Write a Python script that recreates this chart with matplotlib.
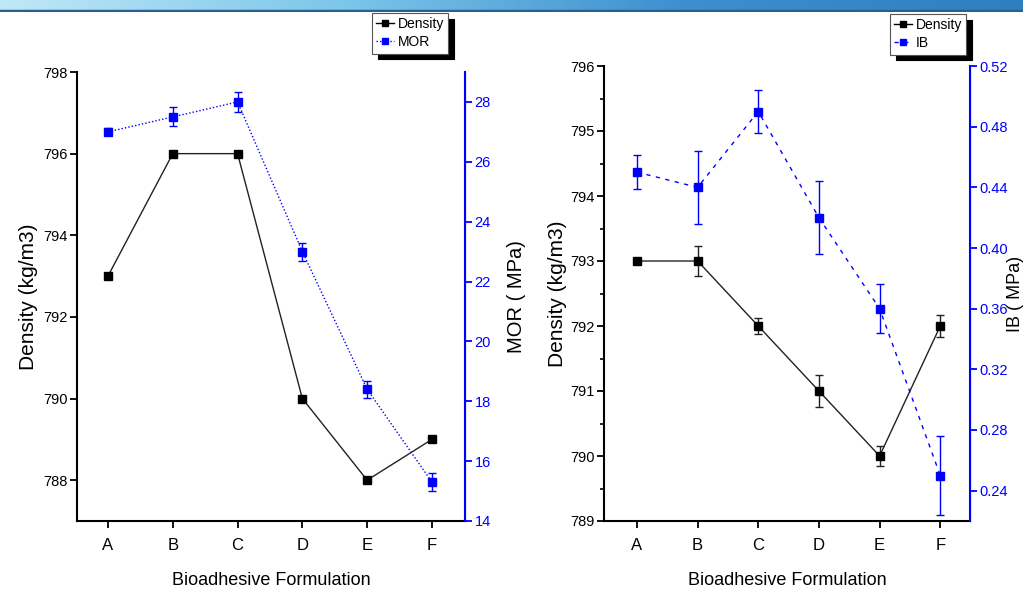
import matplotlib
matplotlib.use("Agg")
import matplotlib.pyplot as plt
import numpy as np
from matplotlib.lines import Line2D
from matplotlib.colors import LinearSegmentedColormap

# ---------------- data ----------------
categories = ['A', 'B', 'C', 'D', 'E', 'F']

density_left = [793, 796, 796, 790, 788, 789]
mor = [27.0, 27.5, 28.0, 23.0, 18.4, 15.3]
mor_err = [0.12, 0.32, 0.32, 0.3, 0.28, 0.31]

density_right = [793, 793, 792, 791, 790, 792]
density_right_err = [0.03, 0.23, 0.13, 0.25, 0.16, 0.17]
ib = [0.45, 0.44, 0.49, 0.42, 0.36, 0.25]
ib_err = [0.011, 0.024, 0.014, 0.024, 0.016, 0.026]

left_yticks = [788, 790, 792, 794, 796, 798]
mor_ticks = [14, 16, 18, 20, 22, 24, 26, 28]
right_yticks = [789, 790, 791, 792, 793, 794, 795, 796]
ib_ticks = [0.24, 0.28, 0.32, 0.36, 0.40, 0.44, 0.48, 0.52]

# ---------------- style ----------------
NARROW = ['Liberation Sans Narrow', 'Liberation Sans', 'DejaVu Sans']
REG = ['Liberation Sans', 'DejaVu Sans']
BLUE = '#0000ff'
W, H = 1023, 592
TICK_FS = 10.5
XTICK_FS = 12

fig = plt.figure(figsize=(W / 100, H / 100), dpi=100)

# top decorative gradient strip
strip = fig.add_axes([0, 1 - 12 / H, 1, 12 / H])
grad = np.linspace(0, 1, 256).reshape(1, -1)
cm = LinearSegmentedColormap.from_list('s', ['#bfe8f7', '#7cc6ea', '#3d8fcf', '#2f7fc0'])
strip.imshow(grad, aspect='auto', cmap=cm, extent=[0, 1, 0, 1])
strip.axhline(0.08, color='#2c5f8f', lw=2.5)
strip.set_axis_off()


def fig_rect(x0, x1, ytop, ybot):
    return [x0 / W, 1 - ybot / H, (x1 - x0) / W, (ybot - ytop) / H]


def style_axes(ax, twin, ylab, twin_lab, ylx, tlx, yl_fs=15, tl_fs=15):
    ax.spines['top'].set_visible(False)
    twin.spines['top'].set_visible(False)
    for s in ['left', 'bottom']:
        ax.spines[s].set_linewidth(1.5)
        ax.spines[s].set_color('black')
    twin.spines['right'].set_color(BLUE)
    twin.spines['right'].set_linewidth(1.5)
    twin.spines['left'].set_visible(False)
    twin.spines['bottom'].set_visible(False)
    ax.tick_params(axis='both', direction='out', length=5, width=1.3, colors='black')
    ax.tick_params(axis='x', pad=7)
    ax.tick_params(axis='y', pad=2)
    ax.tick_params(axis='y', which='minor', direction='out', length=3, width=1.2)
    twin.tick_params(axis='y', direction='out', length=5, width=1.3, colors=BLUE, pad=2)
    for lab in ax.get_xticklabels():
        lab.set_fontfamily(NARROW)
        lab.set_fontsize(XTICK_FS)
    for lab in ax.get_yticklabels():
        lab.set_fontfamily(NARROW)
        lab.set_fontsize(TICK_FS)
    for lab in twin.get_yticklabels():
        lab.set_fontfamily(NARROW)
        lab.set_fontsize(TICK_FS)
        lab.set_color(BLUE)
    ax.set_xlabel('Bioadhesive Formulation', family=NARROW, fontsize=13, labelpad=14)
    ax.set_ylabel(ylab, family=REG, fontsize=yl_fs)
    ax.yaxis.set_label_coords(ylx, 0.5)
    twin.set_ylabel(twin_lab, family=REG, fontsize=tl_fs, color='black')
    twin.yaxis.set_label_coords(tlx, 0.5)


x = np.arange(len(categories))

# ---------------- left panel ----------------
ax1 = fig.add_axes(fig_rect(77, 465, 72, 521))
tw1 = ax1.twinx()
ax1.plot(x, density_left, color='#222222', lw=1.0, marker='s', ms=6,
         mfc='black', mec='black', zorder=3)
tw1.errorbar(x, mor, yerr=mor_err, color=BLUE, lw=1.0, ls=(0, (1, 1.5)),
             marker='s', ms=6, mfc=BLUE, mec=BLUE, capsize=3, elinewidth=1.0,
             capthick=1.0, ecolor=BLUE)
ax1.set_xlim(-0.478, 5.51)
ax1.set_ylim(787, 798)
tw1.set_ylim(14, 29)
ax1.set_xticks(x)
ax1.set_xticklabels(categories)
ax1.set_yticks(left_yticks)
tw1.set_yticks(mor_ticks)
style_axes(ax1, tw1, 'Density (kg/m3)', 'MOR ( MPa)',
           (38 - 77) / 388, (507 - 77) / 388, yl_fs=15, tl_fs=14.5)

h1 = [Line2D([], [], color='black', lw=1, marker='s', ms=5),
      Line2D([], [], color=BLUE, lw=1, ls=(0, (1, 1.5)), marker='s', ms=5)]
leg1 = fig.legend(h1, ['Density', 'MOR'], loc='upper left',
                  bbox_to_anchor=(372 / W, 1 - 13 / H), frameon=True,
                  fancybox=False, shadow={'color': 'black', 'alpha': 1, 'ox': 4, 'oy': -4},
                  edgecolor='#555555', prop={'family': NARROW, 'size': 10},
                  handlelength=1.3, handletextpad=0.25, borderpad=0.3,
                  labelspacing=0.3, borderaxespad=0)
leg1.get_frame().set_linewidth(0.8)

# ---------------- right panel ----------------
ax2 = fig.add_axes(fig_rect(604, 970, 66, 521))
tw2 = ax2.twinx()
ax2.errorbar(x, density_right, yerr=density_right_err, color='#222222', lw=1.0,
             marker='s', ms=6, mfc='black', mec='black', capsize=3,
             elinewidth=1.0, capthick=1.0, ecolor='#222222', zorder=3)
tw2.errorbar(x, ib, yerr=ib_err, color=BLUE, lw=1.0, ls=(0, (3, 4)),
             marker='s', ms=6, mfc=BLUE, mec=BLUE, capsize=3, elinewidth=1.0,
             capthick=1.0, ecolor=BLUE)
ax2.set_xlim(-0.543, 5.49)
ax2.set_ylim(789, 796)
tw2.set_ylim(0.22, 0.52)
ax2.set_xticks(x)
ax2.set_xticklabels(categories)
ax2.set_yticks(right_yticks)
ax2.yaxis.set_minor_locator(matplotlib.ticker.MultipleLocator(0.5))
tw2.set_yticks(ib_ticks)
tw2.yaxis.set_major_formatter(matplotlib.ticker.FormatStrFormatter('%.2f'))
style_axes(ax2, tw2, 'Density (kg/m3)', 'IB ( MPa)',
           (567 - 604) / 366, (1007 - 604) / 366, yl_fs=15, tl_fs=13)

h2 = [Line2D([], [], color='black', lw=1, marker='s', ms=5),
      Line2D([], [], color=BLUE, lw=1, ls=(0, (3, 4)), marker='s', ms=5)]
leg2 = fig.legend(h2, ['Density', 'IB'], loc='upper left',
                  bbox_to_anchor=(890 / W, 1 - 14 / H), frameon=True,
                  fancybox=False, shadow={'color': 'black', 'alpha': 1, 'ox': 4, 'oy': -4},
                  edgecolor='#555555', prop={'family': NARROW, 'size': 10},
                  handlelength=1.3, handletextpad=0.25, borderpad=0.3,
                  labelspacing=0.3, borderaxespad=0)
leg2.get_frame().set_linewidth(0.8)

fig.savefig('out.png', dpi=100)
